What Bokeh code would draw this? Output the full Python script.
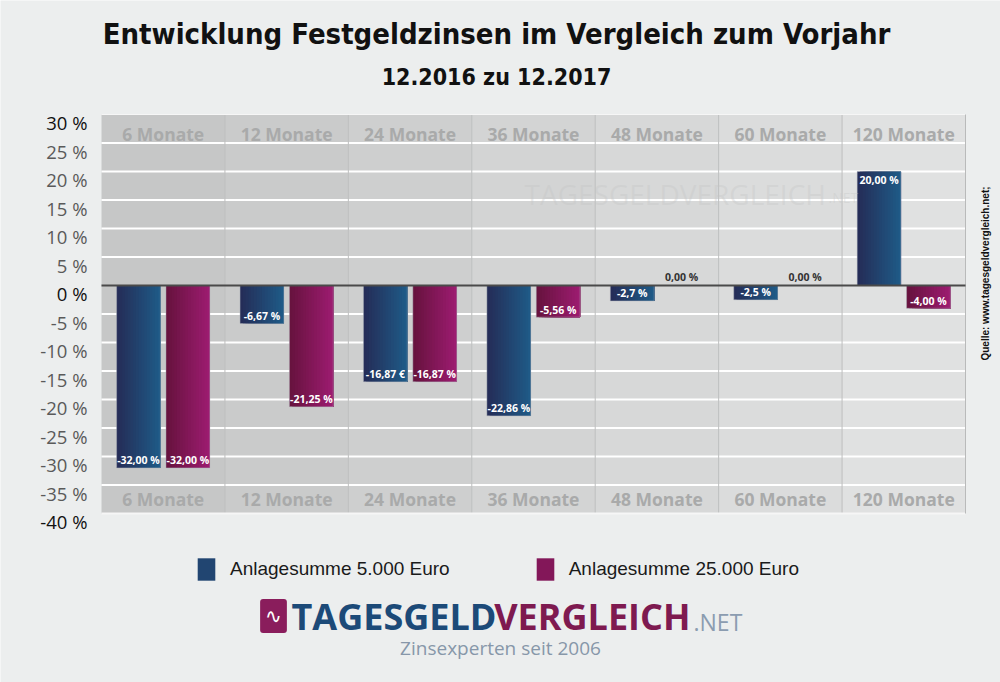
import numpy as np
from bokeh.plotting import figure
from bokeh.models import (ColumnDataSource, LabelSet, Label, Range1d, Legend, LegendItem)
from bokeh.core.properties import value
from bokeh.embed import file_html
from bokeh.resources import INLINE

# ---------------- data ----------------
categories = ["6 Monate", "12 Monate", "24 Monate", "36 Monate", "48 Monate", "60 Monate", "120 Monate"]
series_names = ["Anlagesumme 5.000 Euro", "Anlagesumme 25.000 Euro"]
values_5000 = [-32.00, -6.67, -16.87, -22.86, -2.7, -2.5, 20.00]
values_25000 = [-32.00, -21.25, -16.87, -5.56, 0.00, 0.00, -4.00]
labels_5000 = ["-32,00 %", "-6,67 %", "-16,87 €", "-22,86 %", "-2,7 %", "-2,5 %", "20,00 %"]
labels_25000 = ["-32,00 %", "-21,25 %", "-16,87 %", "-5,56 %", "0,00 %", "0,00 %", "-4,00 %"]
y_ticks = [30, 25, 20, 15, 10, 5, 0, -5, -10, -15, -20, -25, -30, -35, -40]
y_tick_labels = ["30 %", "25 %", "20 %", "15 %", "10 %", "5 %", "0 %", "-5 %", "-10 %",
                 "-15 %", "-20 %", "-25 %", "-30 %", "-35 %", "-40 %"]
title_text = "Entwicklung Festgeldzinsen im Vergleich zum Vorjahr"
subtitle_text = "12.2016 zu 12.2017"
source_text = "Quelle: www.tagesgeldvergleich.net;"

# ---------------- geometry (page pixels) ----------------
W, H = 1000, 682
FL, FR, FT, FB = 101, 965, 114, 513   # plot area on the page
YMIN, YMAX = -40, 30
NC = len(categories)


def px2x(px):
    return (px - FL) / (FR - FL) * NC


def px2y(py):
    return YMAX - (py - FT) / (FB - FT) * (YMAX - YMIN)


PXY = (YMAX - YMIN) / (FB - FT)  # data units per pixel vertically

p = figure(width=W, height=H,
           x_range=Range1d(px2x(0), px2x(W)), y_range=Range1d(px2y(H), px2y(0)),
           output_backend="svg", toolbar_location=None,
           x_axis_location=None, y_axis_location=None,
           min_border=0, min_border_left=0, min_border_right=0,
           min_border_top=0, min_border_bottom=0)
p.grid.visible = False
p.outline_line_color = None
p.background_fill_color = "#eceeee"
p.border_fill_color = "#eceeee"

# column background (gray gradient, darker on the left)
col_left = list(range(NC))
col_right = [c + 1 for c in col_left]
g0, g1 = np.array([198, 199, 199]), np.array([224, 225, 225])
col_colors = []
for i in range(NC):
    c = g0 + (g1 - g0) * i / (NC - 1)
    col_colors.append("#%02x%02x%02x" % tuple(int(v) for v in c))
p.quad(left=col_left, right=col_right, bottom=YMIN, top=YMAX, color=col_colors, line_color=None)

# grid lines
grid_ticks = [t for t in y_ticks if t not in (0, YMIN, YMAX)]
p.segment(x0=0, x1=NC, y0=grid_ticks, y1=grid_ticks, line_color="white", line_width=2)
sep = list(range(1, NC))
p.segment(x0=sep, x1=sep, y0=YMIN, y1=YMAX, line_color="#bdbebe", line_width=1)
p.segment(x0=[0, 0], x1=[NC, NC], y0=[YMAX, YMIN], y1=[YMAX, YMIN],
          line_color="#f6f6f6", line_width=[1, 2])
p.segment(x0=[NC], x1=[NC], y0=[YMIN], y1=[YMAX], line_color="#b9baba", line_width=1)

# bars with horizontal gradient (strips)
centers = np.arange(NC) + 0.5
BW = 0.355
OFFS = [-0.2, 0.2]
grads = [((37, 45, 88), (31, 90, 135)), ((104, 19, 63), (156, 28, 112))]
NS = 16
legend_renderers = []
for s, vals in enumerate([values_5000, values_25000]):
    c0, c1 = np.array(grads[s][0]), np.array(grads[s][1])
    mid = None
    for k in range(NS):
        col = c0 + (c1 - c0) * k / (NS - 1)
        hexc = "#%02x%02x%02x" % tuple(int(v) for v in col)
        sw = BW / NS
        xs = centers + OFFS[s] - BW / 2 + k * sw
        # each strip extends to the right edge of the bar so that no seams appear
        r = p.vbar(x=xs + (BW - k * sw) / 2, width=BW - k * sw, top=vals, bottom=0,
                   fill_color=hexc, line_color=None)
        if k == NS // 2:
            mid = r
    legend_renderers.append(mid)
    p.vbar(x=centers + OFFS[s], width=BW, top=vals, bottom=0, fill_alpha=0,
           line_color="#aab0b8", line_alpha=0.45, line_width=1)

# zero line
p.segment(x0=[0], x1=[NC], y0=[0], y1=[0], line_color="#4a4a4a", line_width=2)

# value labels
lx, ly, lt, lc = [], [], [], []
for s, (vals, labs) in enumerate([(values_5000, labels_5000), (values_25000, labels_25000)]):
    for i, (v, t) in enumerate(zip(vals, labs)):
        lx.append(centers[i] + OFFS[s])
        if v < 0:
            ly.append(v + 7.5 * PXY)
            lc.append("white")
        elif v > 0:
            ly.append(v - 8 * PXY)
            lc.append("white")
        else:
            ly.append(8.5 * PXY)
            lc.append("#333333")
        lt.append(t)
p.add_layout(LabelSet(x="x", y="y", text="text", text_color="color",
                      source=ColumnDataSource(dict(x=lx, y=ly, text=lt, color=lc)),
                      text_font=value("Open Sans"), text_font_style="bold",
                      text_font_size="10.5px", text_align="center", text_baseline="middle"))

# category labels in top and bottom bands
cat_src = ColumnDataSource(dict(x=list(centers), yt=[px2y(133)] * NC, yb=[px2y(498)] * NC,
                                text=categories))
for yk in ("yt", "yb"):
    p.add_layout(LabelSet(x="x", y=yk, text="text", source=cat_src,
                          text_font=value("Open Sans"), text_font_style="bold",
                          text_font_size="17.5px", text_color="#a9aaaa",
                          text_align="center", text_baseline="middle"))

# y tick labels
tick_colors = ["#111111" if t in (YMAX, 0, YMIN) else "#5a5a5a" for t in y_ticks]
p.add_layout(LabelSet(x="x", y="y", text="text", text_color="color",
                      source=ColumnDataSource(dict(x=[px2x(87)] * len(y_ticks),
                                                   y=[t - 8 * PXY for t in y_ticks],
                                                   text=y_tick_labels, color=tick_colors)),
                      text_font=value("Open Sans"), text_font_size="18.5px",
                      text_align="right", text_baseline="middle"))

# watermark
p.add_layout(Label(x=px2x(524), y=px2y(193), text="TAGESGELDVERGLEICH", text_font="Open Sans",
                   text_font_size="28px", text_color="#c4c5c5", text_alpha=0.35,
                   text_align="left", text_baseline="middle"))
p.add_layout(Label(x=px2x(828), y=px2y(197), text=".NET", text_font="Open Sans",
                   text_font_size="14px", text_color="#c4c5c5", text_alpha=0.35,
                   text_align="left", text_baseline="middle"))

# title / subtitle
TITLE_FONT = "DejaVu Sans Condensed"
p.add_layout(Label(x=px2x(496), y=px2y(33), text=title_text, text_font=TITLE_FONT,
                   text_font_style="bold", text_font_size="29px", text_color="#111111",
                   text_align="center", text_baseline="middle"))
p.add_layout(Label(x=px2x(496), y=px2y(76), text=subtitle_text, text_font=TITLE_FONT,
                   text_font_style="bold", text_font_size="23px", text_color="#111111",
                   text_align="center", text_baseline="middle"))

# source (vertical)
p.add_layout(Label(x=px2x(985), y=px2y(273), text=source_text, angle=np.pi / 2,
                   text_font="Liberation Sans", text_font_style="bold", text_font_size="10px",
                   text_color="#111111", text_align="center", text_baseline="middle"))

# legend
legend = Legend(items=[LegendItem(label=series_names[0], renderers=[legend_renderers[0]]),
                       LegendItem(label=series_names[1], renderers=[legend_renderers[1]])],
                location=(195, H - 583), orientation="horizontal",
                glyph_width=22, glyph_height=28, label_standoff=13, spacing=84,
                padding=0, margin=0, background_fill_alpha=0, border_line_alpha=0,
                label_text_font="Liberation Sans", label_text_font_size="19px",
                label_text_color="#1a1a1a")
p.add_layout(legend)

# logo
p.add_layout(Label(x=px2x(273), y=px2y(615.5), text="∿", text_font="DejaVu Sans",
                   text_font_size="20px", text_color="white", background_fill_color="#8a1d5c",
                   padding=5, border_radius=3, text_align="center", text_baseline="middle"))
p.add_layout(Label(x=px2x(291), y=px2y(616), text="TAGESGELD", text_font="Open Sans",
                   text_font_style="bold", text_font_size="36px", text_color="#1c4a78",
                   text_align="left", text_baseline="middle"))
p.add_layout(Label(x=px2x(690), y=px2y(616), text="VERGLEICH", text_font="Open Sans",
                   text_font_style="bold", text_font_size="36px", text_color="#7e1a50",
                   text_align="right", text_baseline="middle"))
p.add_layout(Label(x=px2x(693), y=px2y(621), text=".NET", text_font="Open Sans",
                   text_font_size="23px", text_color="#8b9cb0",
                   text_align="left", text_baseline="middle"))
p.add_layout(Label(x=px2x(500), y=px2y(647), text="Zinsexperten seit 2006", text_font="Open Sans",
                   text_font_size="19px", text_color="#8797a9",
                   text_align="center", text_baseline="middle"))

html = file_html(p, INLINE)
html = html.replace("<body>", '<body style="background-color:#eceeee;">', 1)
open("out.html", "w").write(html)
